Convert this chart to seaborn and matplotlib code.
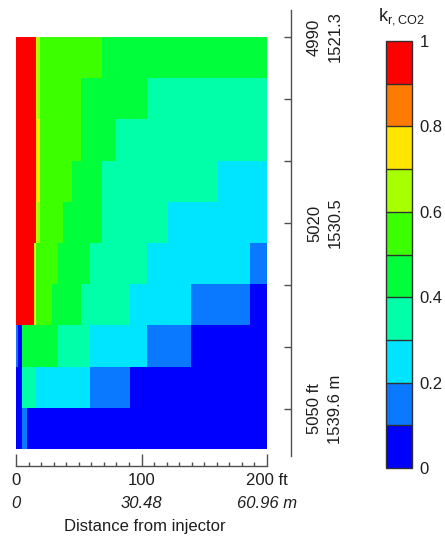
import numpy as np
import matplotlib
matplotlib.use("Agg")
import matplotlib.pyplot as plt
import matplotlib.transforms as mtransforms
from matplotlib.colors import ListedColormap
import seaborn as sns

# ---------------- data ----------------
# radial grid column edges (ft from injector)
col_edges_ft = [0, 1.6, 4.8, 8.8, 14.3, 15.9, 19.1, 28.7, 33.5, 37.5, 44.6, 51.8,
                59.0, 68.5, 78.9, 90.8, 104.4, 121.1, 139.4, 161.0, 186.5, 200]

# k_r,CO2 per layer (top to bottom), one value per grid column
layer01 = [0.95, 0.95, 0.95, 0.95, 0.95, 0.65, 0.55, 0.55, 0.55, 0.55, 0.55, 0.55, 0.55, 0.45, 0.45, 0.45, 0.45, 0.45, 0.45, 0.45, 0.45]
layer02 = [0.95, 0.95, 0.95, 0.95, 0.95, 0.65, 0.55, 0.55, 0.55, 0.55, 0.55, 0.45, 0.45, 0.45, 0.45, 0.45, 0.35, 0.35, 0.35, 0.35, 0.35]
layer03 = [0.95, 0.95, 0.95, 0.95, 0.95, 0.75, 0.55, 0.55, 0.55, 0.55, 0.55, 0.45, 0.45, 0.45, 0.35, 0.35, 0.35, 0.35, 0.35, 0.35, 0.35]
layer04 = [0.95, 0.95, 0.95, 0.95, 0.95, 0.75, 0.55, 0.55, 0.55, 0.55, 0.45, 0.45, 0.45, 0.35, 0.35, 0.35, 0.35, 0.35, 0.35, 0.25, 0.25]
layer05 = [0.95, 0.95, 0.95, 0.95, 0.95, 0.65, 0.55, 0.55, 0.55, 0.45, 0.45, 0.45, 0.45, 0.35, 0.35, 0.35, 0.35, 0.25, 0.25, 0.25, 0.25]
layer06 = [0.95, 0.95, 0.95, 0.95, 0.75, 0.55, 0.55, 0.55, 0.45, 0.45, 0.45, 0.45, 0.35, 0.35, 0.35, 0.35, 0.25, 0.25, 0.25, 0.25, 0.15]
layer07 = [0.95, 0.95, 0.95, 0.95, 0.75, 0.55, 0.55, 0.45, 0.45, 0.45, 0.45, 0.35, 0.35, 0.35, 0.35, 0.25, 0.25, 0.25, 0.15, 0.15, 0.05]
layer08 = [0.15, 0.05, 0.45, 0.45, 0.45, 0.45, 0.45, 0.45, 0.35, 0.35, 0.35, 0.35, 0.25, 0.25, 0.25, 0.25, 0.15, 0.15, 0.05, 0.05, 0.05]
layer09 = [0.05, 0.05, 0.35, 0.35, 0.35, 0.25, 0.25, 0.25, 0.25, 0.25, 0.25, 0.25, 0.15, 0.15, 0.15, 0.05, 0.05, 0.05, 0.05, 0.05, 0.05]
layer10 = [0.05, 0.05, 0.15, 0.05, 0.05, 0.05, 0.05, 0.05, 0.05, 0.05, 0.05, 0.05, 0.05, 0.05, 0.05, 0.05, 0.05, 0.05, 0.05, 0.05, 0.05]

level_colors = ["#0000FF", "#0A78FF", "#00E5FF", "#00FFA8", "#00FF3A",
                "#3CFF00", "#A8FF00", "#FFE600", "#FF7A00", "#FF0000"]
cbar_ticks = [0, 0.2, 0.4, 0.6, 0.8, 1.0]
cbar_labels = ["0", "0.2", "0.4", "0.6", "0.8", "1"]

x_ticks_ft = [0, 100, 200]
x_labels_ft = ["0", "100", "200 ft"]
x_labels_m = ["0", "30.48", "60.96 m"]

depth_ticks_ft = [4990, 5000, 5010, 5020, 5030, 5040, 5050]
depth_labels = ["4990\n1521.3", "", "", "5020\n1530.5", "", "", "5050 ft\n1539.6 m"]

# ---------------- style ----------------
sns.set_style("white")
plt.rcParams["font.family"] = ["Liberation Sans", "DejaVu Sans"]
plt.rcParams["text.color"] = "#1e1e1e"
plt.rcParams["xtick.labelcolor"] = "#1e1e1e"
plt.rcParams["ytick.labelcolor"] = "#1e1e1e"
FS = 12
W, H = 445, 538
RES = 10  # heatmap sub-cells per ft

fig = plt.figure(figsize=(W / 100, H / 100), dpi=100)
ax = fig.add_axes([16 / W, 1 - 449 / H, 251 / W, 412 / H])
cax = fig.add_axes([386 / W, 1 - 468 / H, 26 / W, 427 / H])

layers = np.array([layer01, layer02, layer03, layer04, layer05,
                   layer06, layer07, layer08, layer09, layer10])
counts = np.diff(np.round(np.array(col_edges_ft) * RES)).astype(int)
grid = np.repeat(layers, counts, axis=1)

cmap = ListedColormap(level_colors)
sns.heatmap(grid, ax=ax, cbar_ax=cax, cmap=cmap, vmin=0, vmax=1,
            xticklabels=False, yticklabels=False,
            cbar_kws={"drawedges": True, "ticks": cbar_ticks})

# x axis (distance)
ax.spines["bottom"].set_visible(True)
ax.spines["bottom"].set_position(("outward", 12))
ax.spines["bottom"].set_color("#505050")
ax.spines["bottom"].set_linewidth(1.0)
ax.set_xticks([t * RES for t in x_ticks_ft])
ax.set_xticklabels(x_labels_ft, fontsize=FS, rotation=0)
ax.set_xticks(np.arange(0, 200 * RES + 1, 10 * RES), minor=True)
ax.tick_params(axis="x", which="both", bottom=True, direction="in",
               color="#505050", width=1.0)
ax.tick_params(axis="x", which="major", length=8.5, pad=5.5)
ax.tick_params(axis="x", which="minor", length=3)
ax.set_xlim(0, 200 * RES)
trans = mtransforms.blended_transform_factory(ax.transData, fig.transFigure)
for t, lbl in zip(x_ticks_ft, x_labels_m):
    ax.text(t * RES, 1 - 503 / H, lbl, ha="center", va="center",
            style="italic", fontsize=FS, transform=trans)
fig.text(145 / W, 1 - 526 / H, "Distance from injector", ha="center",
         va="center", fontsize=FS)

# depth axis
dax = fig.add_axes([280 / W, 1 - 456 / H, 11 / W, 446 / H])
dax.patch.set_alpha(0)
for s in ["left", "top", "bottom"]:
    dax.spines[s].set_visible(False)
dax.spines["right"].set_visible(True)
dax.spines["right"].set_color("#505050")
dax.spines["right"].set_linewidth(1.0)
dax.set_ylim(5057.58, 4985.65)
dax.set_xticks([])
dax.yaxis.tick_right()
dax.set_yticks(depth_ticks_ft)
dax.set_yticklabels(depth_labels, rotation=90, fontsize=FS,
                    va="center", ha="left")
for lbl in dax.get_yticklabels():
    lbl.set_multialignment("center")
    lbl.set_linespacing(1.5)
dax.tick_params(axis="y", right=True, direction="in", length=5,
                color="#505050", width=1.0, pad=11.5)

# colorbar
cbar = ax.collections[0].colorbar
cbar.set_ticklabels(cbar_labels)
cbar.outline.set_edgecolor("#303030")
cbar.outline.set_linewidth(1.0)
cbar.dividers.set_color("#303030")
cbar.dividers.set_linewidth(1.0)
cax.tick_params(length=0, pad=5.5, labelsize=FS)
fig.text(401 / W, 1 - 17 / H, r"k$_{\mathregular{r,CO2}}$", ha="center",
         va="center", fontsize=FS + 1)

fig.savefig("out.png", dpi=100)
